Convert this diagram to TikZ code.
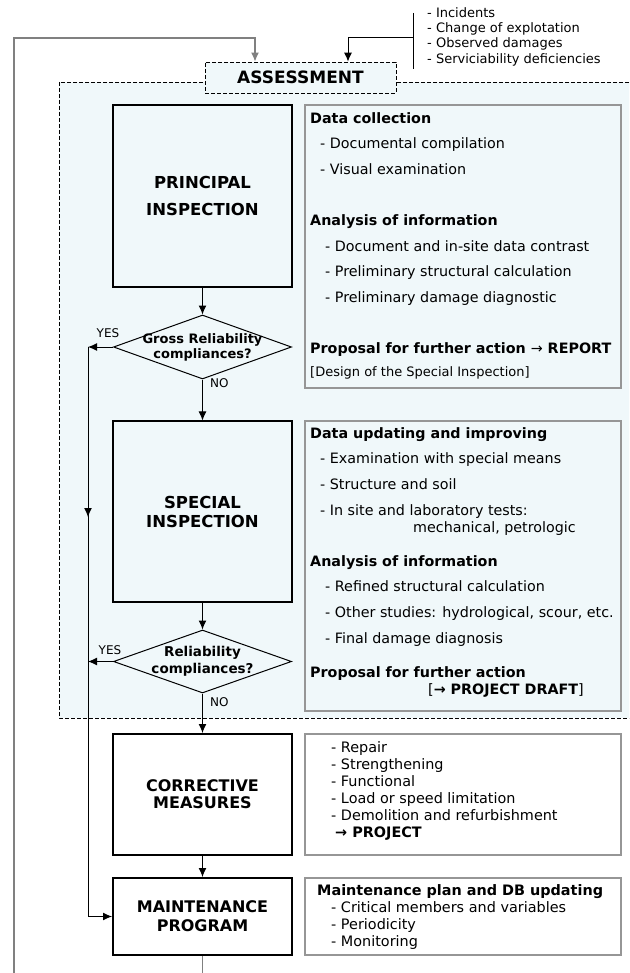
\documentclass[tikz,border=0pt]{standalone}
\usepackage{fontspec}
\setmainfont{DejaVu Sans}
\usetikzlibrary{arrows.meta,shapes.geometric,decorations.markings}

\definecolor{panelfill}{RGB}{240,248,250}
\definecolor{boxgray}{RGB}{150,150,150}
\definecolor{loopgray}{RGB}{128,128,128}

\newcommand{\notefont}{\fontsize{14.3}{16}\selectfont}
\newcommand{\listfont}{\fontsize{14.4}{16}\selectfont}
\newcommand{\trigfont}{\fontsize{13}{14}\selectfont}
\newcommand{\tagfont}{\fontsize{12}{13}\selectfont}

\tikzset{
  flowtip/.tip={Latex[length=9pt,width=8pt]},
  stepbox/.style={draw, line width=1.1pt, fill=panelfill, inner sep=0pt, align=center},
  heavybox/.style={draw, line width=2pt, fill=white, inner sep=0pt, align=center},
  notebox/.style={draw=boxgray, line width=1.4pt, inner sep=0pt},
  query/.style={diamond, draw, line width=1pt, fill=panelfill, inner sep=0pt,
    minimum width=178pt},
  arr/.style={-flowtip, line width=1pt},
  txt/.style={anchor=mid west, inner sep=0pt},
}

\begin{document}
\begin{tikzpicture}[x=1pt,y=-1pt]
\useasboundingbox (0,0) rectangle (629,973);
\clip (0,0) rectangle (629,973);

% assessment area
\draw[line width=0.8pt, dash pattern=on 4pt off 2pt, fill=panelfill] (59,82) rectangle (650,718);

\node[draw, line width=0.8pt, dash pattern=on 4pt off 2pt, fill=panelfill, inner sep=0pt,
  minimum width=191pt, minimum height=31pt, font=\fontsize{17}{19}\selectfont\bfseries]
  (as) at (300.5,77.5) {ASSESSMENT};

% left column
\node[stepbox, minimum width=179pt, minimum height=182pt, font=\fontsize{16.5}{27}\selectfont\bfseries]
  (pi) at (202.5,196) {PRINCIPAL\\INSPECTION};
\node[query, minimum height=64pt] (d1) at (202.5,347) {};
\node[align=center, inner sep=0pt, font=\fontsize{13}{15}\selectfont\bfseries] (d1t) at (d1) {Gross Reliability\\compliances?};
\node[stepbox, minimum width=179pt, minimum height=181pt, font=\fontsize{16.5}{19}\selectfont\bfseries]
  (si) at (202.5,511.5) {SPECIAL\\INSPECTION};
\node[query, minimum height=63pt] (d2) at (202.5,661.5) {};
\node[align=center, inner sep=0pt, font=\fontsize{13.5}{17}\selectfont\bfseries] (d2t) at (d2) {Reliability\\compliances?};
\node[heavybox, minimum width=179pt, minimum height=121pt, font=\fontsize{16}{17}\selectfont\bfseries]
  (cm) at (202.5,794.5) {CORRECTIVE\\MEASURES};
\node[heavybox, minimum width=179pt, minimum height=77pt, font=\fontsize{16}{19}\selectfont\bfseries]
  (mp) at (202.5,916.5) {MAINTENANCE\\PROGRAM};

% right column
\node[notebox, fill=panelfill, minimum width=316pt, minimum height=283pt] (pn) at (463,246.5) {};
\node[notebox, fill=panelfill, minimum width=316pt, minimum height=290pt] (sn) at (463,566) {};
\node[notebox, fill=white, minimum width=316pt, minimum height=121pt] (cn) at (463,794.5) {};
\node[notebox, fill=white, minimum width=316pt, minimum height=77pt] (mn) at (463,916.5) {};

\node[txt, font=\notefont\bfseries] (pn1) at (310,121) {Data collection};
\node[txt, font=\notefont] (pn2) at (320,146) {- Documental compilation};
\node[txt, font=\notefont] (pn3) at (320,172) {- Visual examination};
\node[txt, font=\notefont\bfseries] (pn4) at (310,223) {Analysis of information};
\node[txt, font=\notefont] (pn5) at (325,249) {- Document and in-site data contrast};
\node[txt, font=\notefont] (pn6) at (325,274) {- Preliminary structural calculation};
\node[txt, font=\notefont] (pn7) at (325,300) {- Preliminary damage diagnostic};
\node[txt, font=\notefont\bfseries] (pn8) at (310,351) {Proposal for further action {\mdseries →} REPORT};
\node[txt, font=\fontsize{13}{15}\selectfont] (pn9) at (310,374) {[Design of the Special Inspection]};

\node[txt, font=\notefont\bfseries] (sn1) at (310,436) {Data updating and improving};
\node[txt, font=\notefont] (sn2) at (320,461) {- Examination with special means};
\node[txt, font=\notefont] (sn3) at (320,487) {- Structure and soil};
\node[txt, font=\notefont] (sn4) at (320,513) {- In site and laboratory tests:};
\node[txt, font=\notefont] (sn5) at (413,530) {mechanical, petrologic};
\node[txt, font=\notefont\bfseries] (sn6) at (310,564) {Analysis of information};
\node[txt, font=\notefont] (sn7) at (325,589) {- Refined structural calculation};
\node[txt, font=\notefont] (sn8) at (325,615) {- Other studies: hydrological, scour, etc.};
\node[txt, font=\notefont] (sn9) at (325,641) {- Final damage diagnosis};
\node[txt, font=\notefont\bfseries] (sn10) at (310,675) {Proposal for further action};
\node[txt, font=\notefont] (sn11) at (428,692) {[{\bfseries → PROJECT DRAFT}]};

\node[txt, font=\listfont] (cn1) at (331,750) {- Repair};
\node[txt, font=\listfont] (cn2) at (331,767) {- Strengthening};
\node[txt, font=\listfont] (cn3) at (331,784) {- Functional};
\node[txt, font=\listfont] (cn4) at (331,801) {- Load or speed limitation};
\node[txt, font=\listfont] (cn5) at (331,818) {- Demolition and refurbishment};
\node[txt, font=\listfont\bfseries] (cn6) at (335,835) {→ PROJECT};

\node[txt, font=\listfont\bfseries] (mn1) at (317,893) {Maintenance plan and DB updating};
\node[txt, font=\listfont] (mn2) at (331,910) {- Critical members and variables};
\node[txt, font=\listfont] (mn3) at (331,927) {- Periodicity};
\node[txt, font=\listfont] (mn4) at (331,944) {- Monitoring};

% triggers
\node[txt, font=\trigfont] (tr1) at (427,15) {- Incidents};
\node[txt, font=\trigfont] (tr2) at (427,30) {- Change of explotation};
\node[txt, font=\trigfont] (tr3) at (427,45) {- Observed damages};
\node[txt, font=\trigfont] (tr4) at (427,60.5) {- Serviciability deficiencies};

\coordinate (bartop) at (413,13);
\coordinate (barbot) at (413,69);
\coordinate (trig) at (413,38);
\coordinate (yes1) at (88,347);
\coordinate (yes2) at (88,661.5);

% connectors
\draw[line width=1pt] (bartop) -- (barbot);
\draw[arr] (trig) -| ([xshift=47.5pt]as.north);
\draw[arr, loopgray, line width=1.3pt] (mp.south) -- ++(0,40) -| (14,38) -| ([xshift=-45.5pt]as.north);

\draw[arr] (pi) -- (d1);
\draw[arr] (d1) -- (si);
\draw[arr] (si) -- (d2);
\draw[arr] (d2) -- (cm);
\draw[arr] (cm) -- (mp);
\draw[arr] (d1.west) -- (yes1);
\draw[arr] (d2.west) -- (yes2);
\draw[arr, postaction=decorate, decoration={markings,
  mark=at position 170pt with {\arrow{flowtip}}}] (yes1) |- (mp.west);

\node[font=\tagfont, inner sep=0pt] (yes1t) at (108,333) {YES};
\node[font=\tagfont, inner sep=0pt] (yes2t) at (110,650) {YES};
\node[txt, font=\tagfont] (no1t) at (210,385) {NO};
\node[txt, font=\tagfont] (no2t) at (210,704) {NO};
\end{tikzpicture}
\end{document}
